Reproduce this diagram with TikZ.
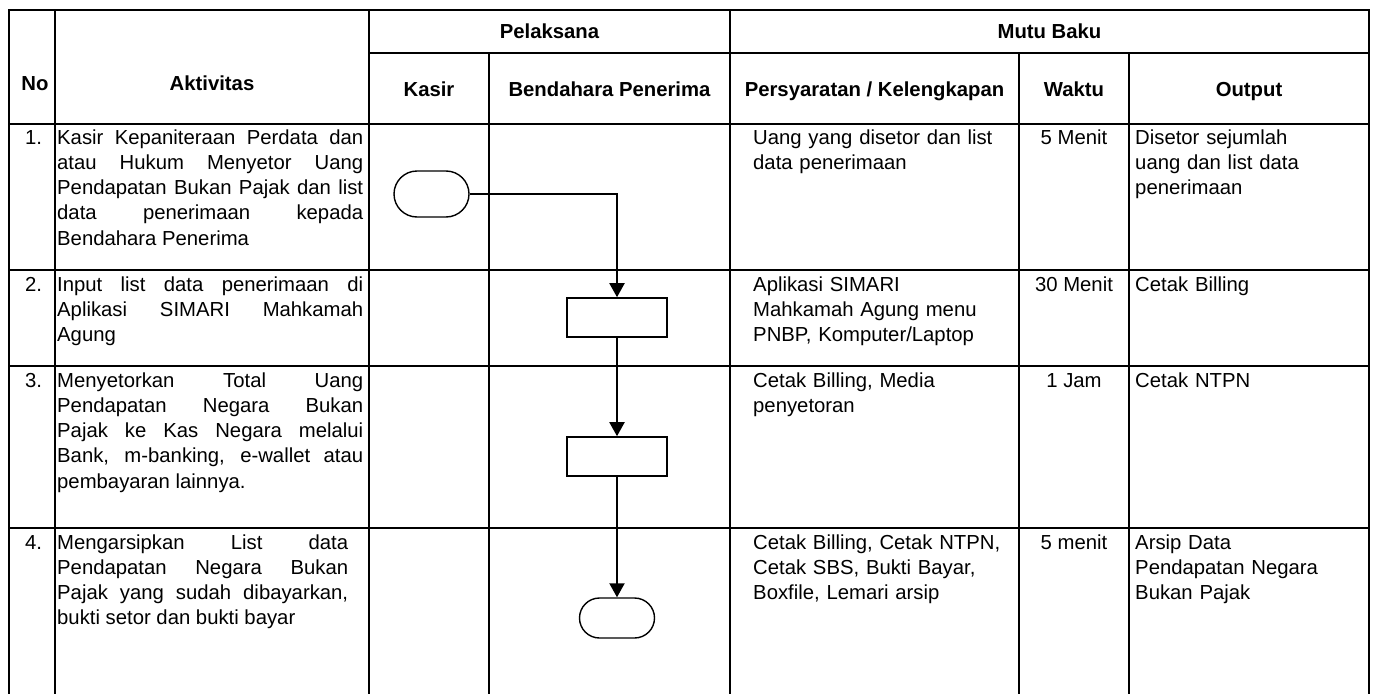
\documentclass[tikz,border=0pt]{standalone}
\usepackage{fontspec}
\setmainfont{Liberation Sans}
\usetikzlibrary{arrows.meta}
\begin{document}
\hyphenpenalty=10000 \exhyphenpenalty=10000 \tolerance=10000 \hbadness=10000
\begin{tikzpicture}[x=1pt,y=-1pt,
  grid/.style={line width=2pt, line cap=rect},
  hdr/.style={font=\fontsize{20.3}{25.6}\selectfont\bfseries, inner sep=0pt, anchor=base},
  body/.style={font=\fontsize{20.3}{25.3}\selectfont, inner sep=0pt},
  num/.style={body, anchor=base west},
  act/.style={body, anchor=base west, text width=306pt, align=justify},
  req/.style={body, anchor=base west, text width=255pt, align=left},
  outp/.style={body, anchor=base west, text width=230pt, align=left},
  tim/.style={body, anchor=base},
  term/.style={draw, line width=1.4pt, minimum width=75pt},
  proc/.style={draw, line width=1.6pt, minimum width=100pt, minimum height=39pt},
  flow/.style={line width=2pt, -{Triangle[length=14pt,width=15pt]}}
]
\useasboundingbox (0,0) rectangle (1375,693);
% ---- table grid ----
\draw[grid] (9,10) -- (1369,10);
\draw[grid] (369,53) -- (1369,53);
\draw[grid] (9,124) -- (1369,124);
\draw[grid] (9,270) -- (1369,270);
\draw[grid] (9,366) -- (1369,366);
\draw[grid] (9,528) -- (1369,528);
\draw[grid] (9,10) -- (9,693);
\draw[grid] (55,10) -- (55,693);
\draw[grid] (369,10) -- (369,693);
\draw[grid] (489,53) -- (489,693);
\draw[grid] (730,10) -- (730,693);
\draw[grid] (1019,53) -- (1019,693);
\draw[grid] (1129,53) -- (1129,693);
\draw[grid] (1369,10) -- (1369,693);
% ---- headers ----
\node[hdr] (hno) at (35,90) {No};
\node[hdr] (hakt) at (212,90) {Aktivitas};
\node[hdr] (hpel) at (549.5,39) {Pelaksana};
\node[hdr] (hmutu) at (1049.5,39) {Mutu Baku};
\node[hdr] (hkas) at (429,96) {Kasir};
\node[hdr] (hben) at (609.5,96) {Bendahara Penerima};
\node[hdr] (hper) at (874.5,96) {Persyaratan / Kelengkapan};
\node[hdr] (hwak) at (1074,96) {Waktu};
\node[hdr] (hout) at (1249,96) {Output};
% ---- row 1 ----
\node[num] (n1) at (25,144) {1.};
\node[act] (a1) at (57,144) {Kasir Kepaniteraan Perdata dan\linebreak atau Hukum Menyetor Uang\linebreak Pendapatan Bukan Pajak dan list\linebreak data penerimaan kepada\linebreak Bendahara Penerima};
\node[req] (p1) at (753,144) {Uang yang disetor dan list\\data penerimaan};
\node[tim] (w1) at (1074,144) {5 Menit};
\node[outp] (o1) at (1135,144) {Disetor sejumlah\\uang dan list data\\penerimaan};
% ---- row 2 ----
\node[num] (n2) at (25,291) {2.};
\node[act] (a2) at (57,291) {Input list data penerimaan di\linebreak Aplikasi SIMARI Mahkamah\linebreak Agung};
\node[req] (p2) at (753,291) {Aplikasi SIMARI\\Mahkamah Agung menu\\PNBP, Komputer/Laptop};
\node[tim] (w2) at (1074,291) {30 Menit};
\node[outp] (o2) at (1135,291) {Cetak Billing};
% ---- row 3 ----
\node[num] (n3) at (25,387) {3.};
\node[act] (a3) at (57,387) {Menyetorkan Total Uang\linebreak Pendapatan Negara Bukan\linebreak Pajak ke Kas Negara melalui\linebreak Bank, m-banking, e-wallet atau\linebreak pembayaran lainnya.};
\node[req] (p3) at (753,387) {Cetak Billing, Media\\penyetoran};
\node[tim] (w3) at (1074,387) {1 Jam};
\node[outp] (o3) at (1135,387) {Cetak NTPN};
% ---- row 4 ----
\node[num] (n4) at (25,549) {4.};
\node[act, text width=291pt] (a4) at (57,549) {Mengarsipkan List data\linebreak Pendapatan Negara Bukan\linebreak Pajak yang sudah dibayarkan,\linebreak bukti setor dan bukti bayar};
\node[req] (p4) at (753,549) {Cetak Billing, Cetak NTPN,\\Cetak SBS, Bukti Bayar,\\Boxfile, Lemari arsip};
\node[tim] (w4) at (1074,549) {5 menit};
\node[outp] (o4) at (1135,549) {Arsip Data\\Pendapatan Negara\\Bukan Pajak};
% ---- flowchart ----
\node[term, minimum height=46pt, rounded corners=23pt] (start) at (431.5,194) {};
\node[proc] (r1) at (617,317.5) {};
\node[proc] (r2) at (617,456.5) {};
\node[term, minimum height=40pt, rounded corners=20pt] (stop) at (617,618) {};
\draw[flow] (start.east) -- (start.east -| r1.north) -- (r1.north);
\draw[flow] (r1.south) -- (r2.north);
\draw[flow] (r2.south) -- (stop.north);
\end{tikzpicture}
\end{document}
